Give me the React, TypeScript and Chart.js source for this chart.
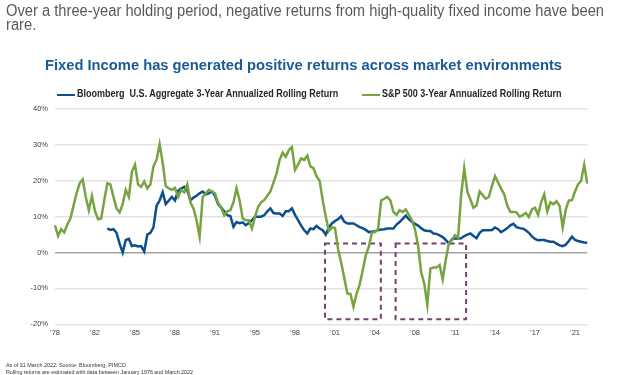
import React, { useEffect, useRef } from 'react';
import { Chart, registerables } from 'chart.js';

Chart.register(...registerables);

// ---------- DATA ----------
// Quarterly observations, Dec 1978 .. Mar 2022 (174 points)
const startYear = 1978;
const startMonth = 11; // December (0-based)

// S&P 500 3-Year Annualized Rolling Return (%)
const spReturns: number[] = [
  7.6, 4.6, 6.5, 5.6, 7.8, 9.5, 13, 16.5, 19.3, 20.4,
  15.5, 11.8, 15.8, 11.5, 9.3, 9.5, 14.5, 19.3, 19, 15.5,
  12.3, 11.2, 13.5, 17.5, 15.5, 22.5, 24.5, 19, 18.3, 19.8,
  17.9, 19, 24, 25.8, 30.2, 25, 18.5, 17.9, 17.5, 18,
  15.5, 17.4, 16.8, 19, 14, 12.3, 9, 4.4, 15.5, 16.5,
  17.5, 17, 16.5, 13.8, 12.5, 10.4, 11.5, 11.8, 14, 17.9,
  14.5, 9.5, 9, 9, 6.7, 10, 12.7, 14, 14.6, 15.8,
  17, 19.5, 22, 25.8, 27.8, 26.7, 28.6, 29.4, 23, 24.5,
  26.2, 25.8, 27, 24, 23.5, 21.2, 20, 14.6, 10, 6,
  7, 6.8, 1, -2.8, -7, -11.4, -11.5, -15.1, -11.5, -9,
  -5, -0.8, 1.6, 5.5, 5.7, 6.5, 14.5, 15, 15.5, 14.5,
  11.3, 10.5, 11.8, 11.3, 12, 10.5, 9, 6.5, 2, -5.5,
  -8.6, -14.6, -4.5, -4.2, -4.2, -3.5, -7.5, -2, 2.5, 3.5,
  4.8, 4.2, 16, 23.5, 17, 14.8, 12.5, 13.1, 17, 16,
  15, 15.5, 18.5, 21.3, 19.5, 17.8, 16.2, 13, 11.3, 11.3,
  11.2, 10, 10.4, 11, 9.9, 12, 12.5, 10.5, 14, 16.2,
  11.5, 14, 13.5, 14.3, 13, 7, 12, 14.5, 14.6, 17,
  19, 20, 24.5, 19.2,
];

// Bloomberg U.S. Aggregate 3-Year Annualized Rolling Return (%)
const aggReturns: (number | null)[] = [
  null, null, null, null, null, null, null, null, null, null,
  null, null, null, null, null, null, null, 6.7, 6.3, 6.5,
  5.5, 2.5, 0, 3.5, 3.8, 1.8, 2, 1.7, 1.8, 0.3,
  5, 5.5, 7, 13, 14.5, 16.8, 13.5, 14.5, 15.5, 14.5,
  17.2, 17.8, 18.3, 17.3, 14.5, 15.3, 15.8, 16.5, 17, 16.2,
  16.5, 17, 15.8, 13.5, 12.5, 11.5, 10.4, 10.2, 7.2, 8.5,
  8.2, 8.4, 7.6, 8.2, 9, 10, 10, 10, 10.4, 11.5,
  12.3, 11, 10.9, 10.9, 10.2, 11.5, 11.5, 12.3, 10.5, 9,
  7.5, 6.2, 5.3, 6.7, 6.5, 7.4, 6.7, 6.2, 5, 7,
  8.1, 8.8, 9.3, 10.1, 8.6, 8.1, 8.1, 8.1, 7.6, 7.1,
  6.8, 6.3, 5.7, 5.8, 5.9, 6.3, 6.4, 6.5, 6.7, 6.7,
  6.7, 7.8, 8.5, 9.4, 10.3, 9.3, 8.5, 8, 7.5, 6.8,
  6.2, 6, 6, 5.3, 5.2, 4.8, 4.3, 3.5, 2.5, 3.7,
  3.9, 3.9, 4, 4.6, 5, 5.3, 4.6, 4, 5.5, 6.2,
  6.2, 6.2, 6.3, 7, 6.5, 5.7, 6.2, 6.8, 7.6, 8,
  7.1, 6.8, 6.7, 6.2, 5.5, 4.5, 3.8, 3.4, 3.5, 3.5,
  3.2, 3, 3, 2.5, 2, 1.8, 2.2, 3.2, 4.4, 3.5,
  3.2, 3, 2.8, 2.7,
];

const monthNames = ['Jan', 'Feb', 'Mar', 'Apr', 'May', 'Jun', 'Jul', 'Aug', 'Sep', 'Oct', 'Nov', 'Dec'];
const categories: string[] = spReturns.map((_, i) => {
  const m = startMonth + i * 3;
  return `${monthNames[m % 12]} ${startYear + Math.floor(m / 12)}`;
});

// x-axis tick labels, one every 13 quarters (39 months)
const tickLabels = ['’78', '’82', '’85', '’88', '’91', '’95', '’98', '’01', '’04', '’08', '’11', '’14', '’17', '’21'];
const tickEvery = 13;

// y-axis
const yMin = -20;
const yMax = 40;
const yStep = 10;

// Highlighted periods (quarter index range, % range)
const boxStart = [87.75, 110.7];
const boxEnd = [105.9, 133.6];
const boxTop = [2.5, 2.5];
const boxBottom = [-18.6, -18.6];

const seriesNames = [
  'Bloomberg  U.S. Aggregate 3-Year Annualized Rolling Return',
  'S&P 500 3-Year Annualized Rolling Return',
];

// ---------- STYLE ----------
const BLUE = '#0d4f8b';
const GREEN = '#77a341';
const PURPLE = '#7b3f6e';
const FONT = "'Liberation Sans', Arial, sans-serif";

let measureCtx: CanvasRenderingContext2D | null = null;
function measure(text: string, font: string): number {
  if (!measureCtx) measureCtx = document.createElement('canvas').getContext('2d');
  measureCtx!.font = font;
  return measureCtx!.measureText(text).width;
}

function FitText(props: {
  text: string; size: number; weight?: string; width?: number; scale?: number;
  left: number; top: number; color: string;
}) {
  const weight = props.weight || 'normal';
  const font = `${weight} ${props.size}px ${FONT}`;
  const s = props.scale ?? (props.width ? props.width / measure(props.text, font) : 1);
  return (
    <div
      style={{
        position: 'absolute',
        left: props.left,
        top: props.top,
        fontFamily: FONT,
        fontSize: props.size,
        fontWeight: weight as any,
        lineHeight: `${props.size}px`,
        color: props.color,
        whiteSpace: 'pre',
        transform: `scaleX(${s})`,
        transformOrigin: '0 0',
      }}
    >
      {props.text}
    </div>
  );
}

const boxPlugin = {
  id: 'periodBoxes',
  beforeDatasetsDraw(chart: any) {
    const { ctx, scales } = chart;
    const x = scales.x;
    const y = scales.y;
    ctx.save();
    ctx.strokeStyle = PURPLE;
    ctx.lineWidth = 2;
    ctx.setLineDash([5, 4]);
    boxStart.forEach((s, k) => {
      const x0 = x.getPixelForValue(s);
      const x1 = x.getPixelForValue(boxEnd[k]);
      const y0 = y.getPixelForValue(boxTop[k]);
      const y1 = y.getPixelForValue(boxBottom[k]);
      ctx.strokeRect(x0, y0, x1 - x0, y1 - y0);
    });
    ctx.restore();
  },
};

function ChartCanvas() {
  const ref = useRef<HTMLCanvasElement>(null);
  useEffect(() => {
    if (!ref.current) return;
    const chart = new Chart(ref.current, {
      type: 'line',
      data: {
        labels: categories,
        datasets: [
          {
            label: seriesNames[0],
            data: aggReturns,
            borderColor: BLUE,
            backgroundColor: BLUE,
            borderWidth: 2.5,
            pointRadius: 0,
            tension: 0,
            spanGaps: false,
            order: 1,
          },
          {
            label: seriesNames[1],
            data: spReturns,
            borderColor: GREEN,
            backgroundColor: GREEN,
            borderWidth: 2.5,
            pointRadius: 0,
            tension: 0,
            order: 0,
          },
        ],
      },
      options: {
        responsive: false,
        animation: false,
        devicePixelRatio: 1,
        layout: { padding: { top: 109, right: 36.7, bottom: 30.7, left: 0 } },
        plugins: { legend: { display: false }, tooltip: { enabled: false }, title: { display: false } },
        scales: {
          x: {
            type: 'category',
            offset: false,
            grid: { display: false, drawTicks: false },
            border: { display: false },
            afterBuildTicks: (s: any) => {
              s.ticks = s.ticks.filter((t: any) => t.value % tickEvery === 0);
            },
            afterFit: (s: any) => { s.height = 20; },
            ticks: {
              autoSkip: false,
              maxRotation: 0,
              minRotation: 0,
              padding: 4,
              color: '#404040',
              font: { family: FONT, size: 7.5 },
              callback: (v: any) => tickLabels[Math.round(Number(v) / tickEvery)] ?? '',
            },
          },
          y: {
            min: yMin,
            max: yMax,
            afterFit: (s: any) => { s.width = 55; },
            border: { display: false },
            grid: {
              drawTicks: false,
              color: (c: any) => (c.tick && c.tick.value === 0 ? '#a3a3a3' : '#e3e3e3'),
              lineWidth: 1.5,
            },
            ticks: {
              stepSize: yStep,
              padding: 7,
              color: '#404040',
              font: { family: FONT, size: 7.5 },
              callback: (v: any) => `${v}%`,
            },
          },
        },
      },
      plugins: [boxPlugin],
    } as any);
    return () => chart.destroy();
  }, []);
  return <canvas ref={ref} width={624} height={375} style={{ position: 'absolute', left: 0, top: 0 }} />;
}

export default function App() {
  const subtitle1 = 'Over a three-year holding period, negative returns from high-quality fixed income have been';
  const subSize = 16;
  const subScale = 598 / measure(subtitle1, `normal ${subSize}px ${FONT}`);
  return (
    <div style={{ position: 'fixed', left: 0, top: 0, width: 624, height: 375, background: '#fff', overflow: 'hidden' }}>
      <ChartCanvas />
      <FitText text={subtitle1} size={subSize} scale={subScale} left={6} top={3} color="#595959" />
      <FitText text="rare." size={subSize} scale={subScale} left={6} top={17} color="#595959" />
      <FitText
        text="Fixed Income has generated positive returns across market environments"
        size={15} weight="bold" width={517} left={45} top={56.6} color="#1b5a94"
      />
      <div style={{ position: 'absolute', left: 56.7, top: 93.8, width: 18.5, height: 2.4, background: BLUE }} />
      <FitText text={seriesNames[0]} size={10} weight="bold" width={262} left={76.7} top={89.3} color="#262626" />
      <div style={{ position: 'absolute', left: 361.7, top: 93.8, width: 18.5, height: 2.4, background: GREEN }} />
      <FitText text={seriesNames[1]} size={10} weight="bold" width={180} left={382} top={89.3} color="#262626" />
      <FitText text="As of 31 March 2022. Source: Bloomberg, PIMCO" size={6} width={120} left={6} top={361.5} color="#333" />
      <FitText
        text="Rolling returns are estimated with data between January 1976 and March 2022"
        size={6} width={187} left={6} top={369} color="#333"
      />
    </div>
  );
}
